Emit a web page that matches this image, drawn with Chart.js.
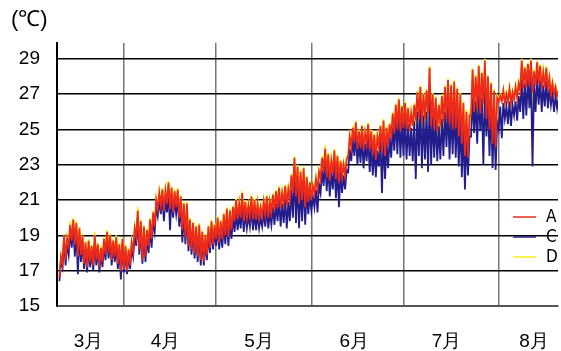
<!DOCTYPE html>
<html>
<head>
<meta charset="utf-8">
<script src="https://cdn.jsdelivr.net/npm/chart.js@4"></script>
<style>
  body { margin: 0; background: #fff; }
</style>
</head>
<body>
<canvas id="tempChart" width="561" height="351"></canvas>
<script>
// day numbers are counted from 1 March (= day 0); one high and one low per day
const firstDay = 10;

const aHigh = [
  17.8,19.0,18.8,19.6,19.9,19.7,19.4,19.0,18.6,18.7,
  18.4,19.0,18.5,18.3,18.8,19.2,19.0,18.7,18.9,18.5,
  18.8,18.4,18.2,18.6,19.4,20.4,19.8,19.5,19.3,19.9,
  20.3,21.0,21.4,21.6,21.5,22.0,21.7,21.5,21.6,21.2,
  20.8,20.8,19.9,19.7,19.5,19.6,19.2,19.0,19.5,19.8,
  19.6,20.0,19.8,20.2,20.5,20.4,20.6,21.0,20.8,21.4,
  20.9,20.7,21.2,21.0,20.8,20.6,20.9,21.2,20.9,21.3,
  21.5,21.7,21.4,21.8,21.6,22.4,23.4,22.9,22.6,22.8,
  22.3,22.0,21.8,22.2,22.6,23.4,23.9,23.6,23.2,23.8,
  23.5,23.2,23.0,23.3,24.6,25.1,25.4,24.9,25.2,24.8,
  25.3,24.9,24.7,24.6,25.2,25.5,25.1,25.3,25.9,26.4,
  26.7,26.3,26.5,26.2,25.9,26.4,27.1,27.4,27.0,27.2,
  28.5,27.0,26.8,26.4,26.9,27.4,27.8,27.5,27.7,27.3,
  27.0,26.5,26.0,25.8,28.4,28.0,28.6,28.2,28.9,28.0,
  27.6,27.2,26.8,26.9,27.2,27.0,27.3,27.1,27.4,27.6,
  28.9,28.5,28.7,28.9,28.3,28.8,28.6,28.2,28.5,27.9,
  27.6,27.4,27.2
];
const aLow = [
  16.6,17.4,17.6,18.4,18.7,18.5,17.8,17.9,17.4,17.2,
  17.5,17.3,17.6,17.2,17.5,17.9,18.0,17.6,17.8,17.4,
  17.0,17.1,17.0,17.3,18.1,18.9,18.2,17.6,17.8,18.4,
  18.8,19.5,20.5,20.7,20.4,20.8,20.5,20.3,20.6,20.0,
  19.3,18.9,18.4,18.2,18.0,17.8,17.6,17.5,17.9,18.3,
  18.5,18.8,18.6,18.8,19.0,18.9,19.3,19.8,19.9,20.0,
  19.8,20.0,20.1,19.9,19.9,20.0,20.1,20.2,20.0,20.3,
  20.4,20.6,20.5,20.8,20.7,21.0,21.4,21.2,20.8,21.0,
  20.6,20.9,21.0,21.4,21.6,22.2,22.6,22.3,22.1,22.5,
  22.2,22.0,22.3,22.4,23.5,24.0,24.3,23.9,24.0,23.8,
  24.2,23.9,23.6,23.3,24.0,23.7,23.5,24.1,24.5,24.8,
  25.0,24.9,25.1,25.0,24.9,25.2,25.5,25.7,25.4,25.6,
  25.9,25.2,25.0,24.9,25.2,25.4,25.6,25.3,25.0,25.1,
  24.6,24.2,23.5,23.4,25.8,26.0,26.2,25.9,26.5,25.6,
  25.0,24.2,24.0,26.6,26.6,26.5,26.6,26.5,26.7,26.8,
  27.2,27.3,27.4,27.5,27.1,27.5,27.6,27.3,27.4,27.2,
  27.0,27.0,26.9
];
const cHigh = [
  17.6,18.7,18.5,19.2,19.5,19.3,19.0,18.6,18.2,18.3,
  18.1,18.6,18.2,18.0,18.4,18.8,18.7,18.4,18.5,18.2,
  18.5,18.1,17.9,18.3,19.0,20.0,19.4,19.0,18.9,19.4,
  19.8,20.6,21.0,21.2,21.0,21.5,21.2,21.0,21.1,20.8,
  20.3,20.3,19.5,19.3,19.1,19.2,18.8,18.6,19.1,19.4,
  19.2,19.5,19.3,19.6,19.9,19.8,20.0,20.3,20.2,20.6,
  20.3,20.1,20.5,20.3,20.2,20.0,20.3,20.5,20.3,20.6,
  20.8,21.0,20.8,21.1,20.9,21.6,22.6,22.2,21.8,22.1,
  21.6,21.3,21.2,21.6,21.9,22.7,23.2,22.9,22.6,23.1,
  22.8,22.6,22.4,22.7,23.9,24.5,24.8,24.3,24.5,24.2,
  24.6,24.2,24.0,23.8,24.4,24.7,24.3,24.6,25.1,25.6,
  25.8,25.5,25.6,25.3,25.1,25.5,26.0,26.2,25.8,26.0,
  26.8,25.8,25.6,25.2,25.6,26.0,26.3,26.0,26.2,25.8,
  25.5,25.2,24.8,24.6,26.8,26.6,27.0,26.8,27.2,26.6,
  26.2,25.8,25.4,26.3,26.5,26.3,26.6,26.4,26.6,26.9,
  27.8,27.6,27.9,28.1,27.6,28.0,27.8,27.5,27.7,27.3,
  27.1,26.9,26.8
];
const cLow = [
  16.4,17.2,17.3,17.9,18.3,17.8,16.8,17.5,17.1,16.9,
  17.2,17.0,17.3,16.9,17.2,17.6,17.7,17.3,17.5,17.1,
  16.5,16.9,16.8,17.1,17.8,18.4,17.9,17.4,17.5,18.0,
  18.3,19.2,20.1,20.2,19.8,20.3,19.3,20.0,20.2,19.5,
  18.6,18.5,18.1,17.9,17.7,17.5,17.3,17.3,17.6,18.0,
  18.2,18.4,18.2,18.3,18.5,18.4,18.8,19.2,19.3,19.4,
  19.2,19.4,19.5,19.3,19.3,19.4,19.5,19.5,19.4,19.6,
  19.6,19.8,19.5,19.7,19.4,19.8,20.0,19.7,19.4,19.8,
  19.6,20.2,20.4,20.6,20.3,21.4,21.8,21.5,21.2,21.6,
  21.1,20.6,21.4,21.6,22.6,23.2,23.5,23.0,23.1,22.8,
  23.2,22.6,22.4,22.3,22.9,21.4,22.2,22.8,23.4,23.8,
  23.6,23.4,23.5,23.3,23.5,23.2,22.2,23.5,22.8,23.3,
  22.6,23.0,23.4,23.2,23.3,23.5,24.0,23.3,23.6,23.4,
  22.9,22.3,21.6,22.4,24.6,24.8,24.2,24.9,23.0,24.6,
  23.5,22.8,22.7,25.0,24.5,25.6,25.3,25.2,25.8,25.5,
  26.0,25.6,25.8,26.2,22.9,26.0,26.4,26.0,26.3,26.2,
  26.4,26.0,26.2
];
const dHigh = [
  17.9,19.1,18.9,19.8,20.0,19.8,19.5,19.1,18.7,18.8,
  18.5,19.2,18.6,18.4,18.9,19.3,19.1,18.8,19.0,18.6,
  18.9,18.5,18.3,18.7,19.5,20.6,19.9,19.6,19.4,20.0,
  20.4,21.1,21.5,21.7,21.6,22.1,21.8,21.6,21.7,21.3,
  20.9,20.9,20.0,19.8,19.6,19.7,19.3,19.1,19.6,19.9,
  19.7,20.1,19.9,20.3,20.6,20.5,20.7,21.1,20.9,21.5,
  21.0,20.8,21.3,21.1,20.9,20.7,21.0,21.3,21.0,21.4,
  21.6,21.8,21.5,21.9,21.7,22.5,23.5,23.0,22.7,22.9,
  22.4,22.1,21.9,22.3,22.7,23.5,24.1,23.7,23.3,23.9,
  23.6,23.3,23.1,23.4,24.7,25.2,25.5,25.0,25.3,24.9,
  25.4,25.0,24.8,24.7,25.3,25.6,25.2,25.4,26.0,26.5,
  26.8,26.4,26.6,26.3,26.0,26.5,27.2,27.5,27.1,27.3,
  28.6,27.1,26.9,26.5,27.0,27.5,27.9,27.6,27.8,27.4,
  27.1,26.6,26.1,25.9,28.5,28.1,28.7,28.3,29.0,28.1,
  27.7,27.3,26.9,27.0,27.3,27.1,27.4,27.2,27.5,27.7,
  29.0,28.6,28.8,29.0,28.4,28.9,28.7,28.3,28.6,28.0,
  27.7,27.5,27.3
];
const dLow = [
  16.7,17.5,17.7,18.5,18.8,18.6,17.9,18.0,17.5,17.3,
  17.6,17.4,17.7,17.3,17.6,18.0,18.1,17.7,17.9,17.5,
  17.1,17.2,17.1,17.4,18.2,19.0,18.3,17.7,17.9,18.5,
  18.9,19.6,20.6,20.8,20.5,20.9,20.6,20.4,20.7,20.1,
  19.4,19.0,18.5,18.3,18.1,17.9,17.7,17.6,18.0,18.4,
  18.6,18.9,18.7,18.9,19.1,19.0,19.4,19.9,20.0,20.1,
  19.9,20.1,20.2,20.0,20.0,20.1,20.2,20.3,20.1,20.4,
  20.5,20.7,20.6,20.9,20.8,21.1,21.5,21.3,20.9,21.1,
  20.7,21.0,21.1,21.5,21.7,22.3,22.7,22.4,22.2,22.6,
  22.3,22.1,22.4,22.5,23.6,24.1,24.4,24.0,24.1,23.9,
  24.3,24.0,23.7,23.4,24.1,23.8,23.6,24.2,24.6,24.9,
  25.1,25.0,25.2,25.1,25.0,25.3,25.2,25.4,25.1,25.3,
  25.6,24.9,24.7,24.6,24.9,25.1,25.3,25.0,24.7,24.8,
  24.3,23.9,23.2,23.1,25.5,25.7,25.9,25.6,26.2,25.3,
  24.7,23.9,23.7,26.7,26.7,26.6,26.7,26.6,26.8,26.9,
  27.3,27.4,27.5,27.6,26.3,27.6,27.7,27.4,27.5,27.3,
  27.1,27.1,27.0
];

const monthStarts = [31, 61, 92, 122, 153];
const monthLabels = ['3月', '4月', '5月', '6月', '7月', '8月'];
const monthLabelDays = [19.5, 44.5, 75, 106, 136, 164.5];
const yTicks = [15, 17, 19, 21, 23, 25, 27, 29];

function dailyPoints(hi, lo) {
  const pts = [];
  hi.forEach((h, i) => {
    pts.push({ x: firstDay + i, y: lo[i] });
    pts.push({ x: firstDay + i + 0.5, y: h });
  });
  return pts;
}

// unit label top left
const unitLabel = {
  id: 'unitLabel',
  afterDraw(chart) {
    const ctx = chart.ctx;
    ctx.save();
    ctx.font = '22px "Liberation Sans", sans-serif';
    ctx.fillStyle = '#000';
    ctx.textBaseline = 'middle';
    ctx.fillText('(℃)', 11, 20);
    ctx.restore();
  }
};

// legend sits inside the plot, right side
const insideLegend = {
  id: 'insideLegend',
  afterDraw(chart) {
    const ctx = chart.ctx;
    ctx.save();
    ctx.font = '17px "Liberation Sans Narrow", "DejaVu Sans Condensed", "Liberation Sans", sans-serif';
    ctx.textBaseline = 'middle';
    chart.data.datasets.forEach((ds, i) => {
      const y = 217 + i * 20;
      ctx.strokeStyle = ds.borderColor;
      ctx.lineWidth = 1.5;
      ctx.beginPath();
      ctx.moveTo(513, y);
      ctx.lineTo(536, y);
      ctx.stroke();
      ctx.fillStyle = '#000';
      ctx.fillText(ds.label, 546, y + 1);
    });
    ctx.restore();
  }
};

new Chart(document.getElementById('tempChart'), {
  type: 'line',
  data: {
    datasets: [
      { label: 'A', data: dailyPoints(aHigh, aLow), borderColor: '#ee2a1a', borderWidth: 1.8 },
      { label: 'C', data: dailyPoints(cHigh, cLow), borderColor: '#221c8c', borderWidth: 1.8 },
      { label: 'D', data: dailyPoints(dHigh, dLow), borderColor: '#f8ef1c', borderWidth: 1.8 }
    ]
  },
  options: {
    responsive: false,
    animation: false,
    elements: { point: { radius: 0 }, line: { tension: 0 } },
    layout: { padding: { top: 43, right: 3, bottom: 0, left: 0 } },
    plugins: { legend: { display: false }, tooltip: { enabled: false } },
    scales: {
      x: {
        type: 'linear',
        min: 9.2,
        max: 172.3,
        afterBuildTicks: (scale) => {
          scale.ticks = monthStarts.concat(monthLabelDays)
            .sort((a, b) => a - b)
            .map(v => ({ value: v }));
        },
        afterFit: (scale) => {
          scale.height = 45;
          scale.paddingLeft = 0;
          scale.paddingRight = 0;
        },
        grid: {
          drawTicks: false,
          lineWidth: 1.5,
          color: (ctx) => (ctx.tick && monthStarts.includes(ctx.tick.value)) ? '#777' : 'rgba(0,0,0,0)'
        },
        border: { display: true, color: '#555', width: 2 },
        ticks: {
          autoSkip: false,
          maxRotation: 0,
          padding: 24,
          color: '#000',
          font: { family: 'Liberation Sans', size: 19 },
          callback: (value) => {
            const i = monthLabelDays.indexOf(value);
            return i >= 0 ? monthLabels[i] : '';
          }
        }
      },
      y: {
        min: 15,
        max: 29.9,
        afterBuildTicks: (scale) => {
          scale.ticks = yTicks.map(v => ({ value: v }));
        },
        afterFit: (scale) => {
          scale.width = 57;
          scale.paddingTop = 0;
          scale.paddingBottom = 0;
        },
        grid: { drawTicks: false, color: '#000', lineWidth: 1.5 },
        border: { display: true, color: '#000', width: 2 },
        ticks: {
          padding: 17,
          color: '#000',
          font: { family: 'Liberation Sans', size: 19 }
        }
      }
    }
  },
  plugins: [unitLabel, insideLegend]
});
</script>
</body>
</html>
